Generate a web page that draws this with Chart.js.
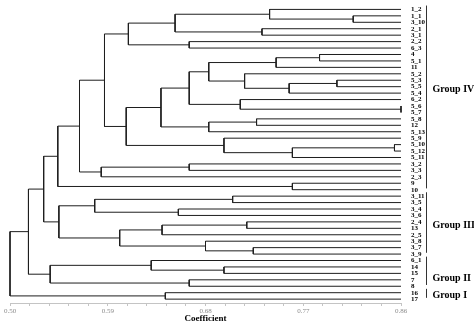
<!DOCTYPE html>
<html>
<head>
<meta charset="utf-8">
<script src="https://cdn.jsdelivr.net/npm/chart.js@4.4.1/dist/chart.umd.min.js"></script>
<style>
html, body { margin: 0; padding: 0; background: #fff; }
</style>
</head>
<body>
<canvas id="dendro" width="474" height="325"></canvas>
<script>
// leaves, top to bottom
var leaves = ['1_2', '1_1', '3_10', '2_1', '3_1', '2_2', '6_3', '4', '5_1', '11',
    '5_2', '5_3', '5_5', '5_4', '6_2', '5_6', '5_7', '5_8', '12', '5_13',
    '5_9', '5_10', '5_12', '5_11', '3_2', '3_3', '2_3', '9', '10', '3_11',
    '3_5', '3_4', '3_6', '2_4', '13', '2_5', '3_8', '3_7', '3_9', '6_1',
    '14', '15', '7', '8', '16', '17'];

// merges: a string is a leaf, a number is an earlier merge
var mergeLeft = ['1_1', '1_2', '2_1', 1, '2_2', 3, '4', 6, '5_3', 8,
    '5_2', 7, '5_6', '6_2', 11, '5_8', 15, 14, '5_10', 18,
    '5_9', 17, 5, '3_2', 23, 22, '9', 25, '3_11', '3_4',
    28, '2_4', 31, '3_7', '3_8', 32, 30, 27, '14', '6_1',
    '7', 39, 37, '16', 42];
var mergeRight = ['3_10', 0, '3_1', 2, '6_3', 4, '5_1', '11', '5_5', '5_4',
    9, 10, '5_7', 12, 13, '12', '5_13', 16, '5_12', '5_11',
    19, 20, 21, '3_3', '2_3', 24, '10', 26, '3_5', '3_6',
    29, '13', '2_5', '3_9', 33, 34, 35, 36, '15', 38,
    '8', 40, 41, '17', 43];
var mergeCoef = [0.816, 0.739, 0.732, 0.652, 0.665, 0.609, 0.785, 0.745, 0.801, 0.757,
    0.716, 0.683, 0.860, 0.712, 0.665, 0.727, 0.683, 0.639, 0.854, 0.760,
    0.697, 0.607, 0.587, 0.665, 0.584, 0.564, 0.760, 0.544, 0.705, 0.655,
    0.578, 0.718, 0.640, 0.724, 0.680, 0.601, 0.545, 0.531, 0.697, 0.630,
    0.665, 0.537, 0.517, 0.643, 0.500];

var majorTicks = [0.50, 0.59, 0.68, 0.77, 0.86];
var minorPerMajor = 5;

var groupNames = ['Group IV', 'Group III', 'Group II', 'Group I'];
var groupFirst = ['1_2', '3_11', '6_1', '16'];
var groupLast = ['10', '3_9', '8', '17'];

var LEAF_END = majorTicks[majorTicks.length - 1];
var SERIF = "'Liberation Serif', 'Times New Roman', serif";

var rowOf = {};
leaves.forEach(function (n, i) { rowOf[n] = i; });

var nodeRow = [];
function childPos(c) {
    if (typeof c === 'number') return { x: mergeCoef[c], y: nodeRow[c] };
    return { x: LEAF_END, y: rowOf[c] };
}

var datasets = [];
mergeLeft.forEach(function (l, i) {
    var a = childPos(l);
    var b = childPos(mergeRight[i]);
    var h = mergeCoef[i];
    nodeRow[i] = (a.y + b.y) / 2;
    datasets.push({
        data: [{ x: a.x, y: a.y }, { x: h, y: a.y }, { x: h, y: b.y }, { x: b.x, y: b.y }],
        showLine: true,
        borderColor: '#1e1e1e',
        borderWidth: 1,
        pointRadius: 0,
        clip: false
    });
});

// x ticks: majors plus minor marks in between
var xTickValues = [];
for (var k = 0; k < majorTicks.length - 1; k++) {
    var step = (majorTicks[k + 1] - majorTicks[k]) / minorPerMajor;
    for (var m = 0; m < minorPerMajor; m++) xTickValues.push(majorTicks[k] + m * step);
}
xTickValues.push(LEAF_END);

var groupPlugin = {
    id: 'groups',
    afterDraw: function (chart) {
        var ctx = chart.ctx;
        var ys = chart.scales.y;
        var bx = chart.chartArea.right + 25.5;
        var labelShift = [-8, 3, 8, 2];
        ctx.save();
        ctx.strokeStyle = '#333';
        ctx.lineWidth = 1;
        ctx.fillStyle = '#000';
        ctx.font = 'bold 10px ' + SERIF;
        ctx.textAlign = 'left';
        ctx.textBaseline = 'middle';
        groupNames.forEach(function (g, i) {
            var top = ys.getPixelForValue(rowOf[groupFirst[i]] - 0.6);
            var bot = ys.getPixelForValue(rowOf[groupLast[i]] - 0.2);
            ctx.beginPath();
            ctx.moveTo(bx, top);
            ctx.lineTo(bx, bot);
            ctx.stroke();
            ctx.fillText(g, bx + 6, (top + bot) / 2 + labelShift[i]);
        });
        ctx.restore();
    }
};

new Chart(document.getElementById('dendro'), {
    type: 'scatter',
    data: { datasets: datasets },
    options: {
        responsive: false,
        animation: false,
        layout: { padding: { left: 10, top: 6, right: 0, bottom: 0 } },
        plugins: { legend: { display: false }, tooltip: { enabled: false } },
        scales: {
            x: {
                type: 'linear',
                min: majorTicks[0],
                max: LEAF_END,
                afterBuildTicks: function (s) {
                    s.ticks = xTickValues.map(function (v) { return { value: v }; });
                },
                afterFit: function (s) { s.height = 22; },
                grid: { drawOnChartArea: false, drawTicks: true, tickLength: 3, color: '#c4c4c4' },
                border: { color: '#c4c4c4' },
                ticks: {
                    autoSkip: false,
                    maxRotation: 0,
                    padding: 1,
                    color: '#8c8c8c',
                    font: { family: SERIF, size: 7 },
                    callback: function (v, i) { return i % minorPerMajor === 0 ? v.toFixed(2) : ''; }
                },
                title: {
                    display: true,
                    text: 'Coefficient',
                    color: '#000',
                    padding: { top: 0, bottom: 1 },
                    font: { family: SERIF, size: 9, weight: 'bold' }
                }
            },
            y: {
                type: 'linear',
                position: 'right',
                reverse: true,
                min: -0.5,
                max: 45.6,
                afterBuildTicks: function (s) {
                    s.ticks = leaves.map(function (n, i) { return { value: i }; });
                },
                afterFit: function (s) { s.width = 73; },
                grid: { display: false },
                border: { display: false },
                ticks: {
                    autoSkip: false,
                    padding: 2,
                    color: '#000',
                    font: { family: SERIF, size: 7, weight: 'bold' },
                    callback: function (v) { return leaves[v]; }
                }
            }
        }
    },
    plugins: [groupPlugin]
});
</script>
</body>
</html>
